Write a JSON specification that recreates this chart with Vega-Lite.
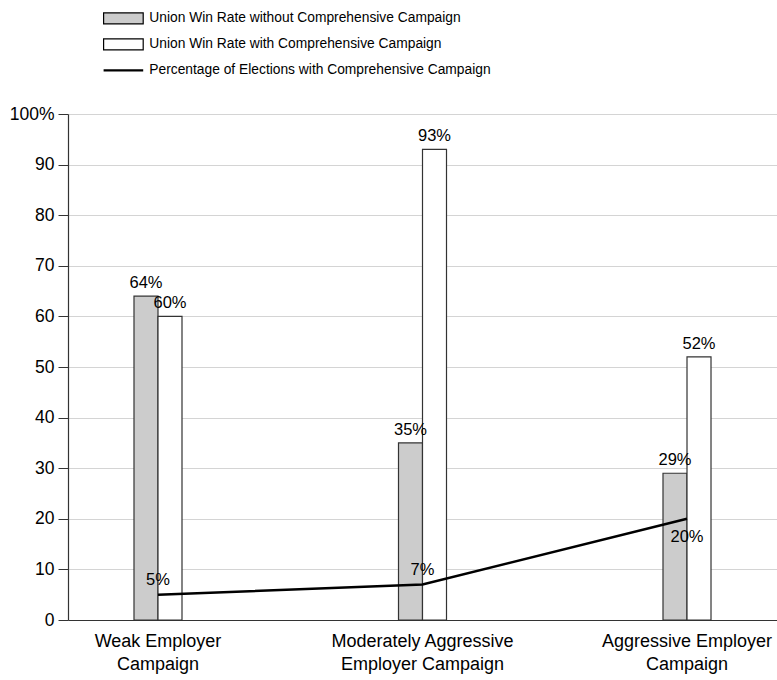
{
  "$schema": "https://vega.github.io/schema/vega-lite/v6.json",
  "autosize": {"type": "none"},
  "width": 709,
  "height": 506,
  "padding": {"left": 68, "top": 114, "right": 0, "bottom": 60},
  "background": "white",
  "config": {
    "font": "Liberation Sans",
    "view": {"stroke": null},
    "axis": {"labelFont": "Liberation Sans", "labelColor": "#000"}
  },
  "data": {
    "values": [
      {"category": "Weak Employer|Campaign", "series": "Union Win Rate without Comprehensive Campaign", "value": 0.64},
      {"category": "Weak Employer|Campaign", "series": "Union Win Rate with Comprehensive Campaign", "value": 0.60},
      {"category": "Weak Employer|Campaign", "series": "Percentage of Elections with Comprehensive Campaign", "value": 0.05},
      {"category": "Moderately Aggressive|Employer Campaign", "series": "Union Win Rate without Comprehensive Campaign", "value": 0.35},
      {"category": "Moderately Aggressive|Employer Campaign", "series": "Union Win Rate with Comprehensive Campaign", "value": 0.93},
      {"category": "Moderately Aggressive|Employer Campaign", "series": "Percentage of Elections with Comprehensive Campaign", "value": 0.07},
      {"category": "Aggressive Employer|Campaign", "series": "Union Win Rate without Comprehensive Campaign", "value": 0.29},
      {"category": "Aggressive Employer|Campaign", "series": "Union Win Rate with Comprehensive Campaign", "value": 0.52},
      {"category": "Aggressive Employer|Campaign", "series": "Percentage of Elections with Comprehensive Campaign", "value": 0.20}
    ]
  },
  "encoding": {
    "x": {
      "field": "category",
      "type": "nominal",
      "sort": null,
      "scale": {"paddingInner": 0.8185, "paddingOuter": 0.2495},
      "axis": {
        "title": null,
        "labelAngle": 0,
        "labelExpr": "split(datum.label, '|')",
        "labelFontSize": 18,
        "labelLineHeight": 23,
        "labelPadding": 12,
        "labelLimit": 400,
        "ticks": false,
        "domainColor": "#333",
        "domainWidth": 1.2,
        "grid": false
      }
    },
    "y": {
      "field": "value",
      "type": "quantitative",
      "scale": {"domain": [0, 1], "nice": false},
      "axis": {
        "title": null,
        "values": [0, 0.1, 0.2, 0.3, 0.4, 0.5, 0.6, 0.7, 0.8, 0.9, 1],
        "labelExpr": "datum.value >= 0.999 ? '100%' : format(datum.value * 100, 'd')",
        "labelFontSize": 17.5,
        "labelPadding": 4,
        "tickSize": 10,
        "tickColor": "#333",
        "domainColor": "#333",
        "domainWidth": 1.2,
        "grid": true,
        "gridColor": "#d4d4d4",
        "gridWidth": 1
      }
    }
  },
  "layer": [
    {
      "transform": [{"filter": "datum.series !== 'Percentage of Elections with Comprehensive Campaign'"}],
      "mark": {"type": "bar", "stroke": "#333", "strokeWidth": 1.2},
      "encoding": {
        "xOffset": {"field": "series", "type": "nominal", "sort": ["Union Win Rate without Comprehensive Campaign", "Union Win Rate with Comprehensive Campaign"]},
        "color": {
          "field": "series",
          "type": "nominal",
          "scale": {
            "domain": ["Union Win Rate without Comprehensive Campaign", "Union Win Rate with Comprehensive Campaign", "Percentage of Elections with Comprehensive Campaign"],
            "range": ["#cccccc", "#ffffff", "#000000"]
          },
          "legend": {
            "title": null,
            "orient": "none",
            "legendX": 48.5,
            "legendY": -102.5,
            "direction": "vertical",
            "padding": 0,
            "symbolSize": 121,
            "symbolType": "M-3.6,-1H3.6V1H-3.6Z",
            "symbolStrokeColor": "#000",
            "symbolStrokeWidth": 1.2,
            "labelFontSize": 13.8,
            "labelFont": "Liberation Sans",
            "labelColor": "#000",
            "labelOffset": 19,
            "rowPadding": 10,
            "labelLimit": 500,
            "encode": {
              "symbols": {
                "update": {
                  "shape": {"signal": "datum.value === 'Percentage of Elections with Comprehensive Campaign' ? 'M-3.6,0H3.6' : 'M-3.6,-1H3.6V1H-3.6Z'"},
                  "fill": {"signal": "datum.value === 'Union Win Rate without Comprehensive Campaign' ? '#cccccc' : datum.value === 'Union Win Rate with Comprehensive Campaign' ? '#ffffff' : 'transparent'"},
                  "stroke": {"value": "#000"},
                  "strokeWidth": {"signal": "datum.value === 'Percentage of Elections with Comprehensive Campaign' ? 2.4 : 1.2"},
                  "opacity": {"value": 1}
                }
              }
            }
          }
        }
      }
    },
    {
      "transform": [{"filter": "datum.series !== 'Percentage of Elections with Comprehensive Campaign'"}],
      "mark": {"type": "text", "baseline": "alphabetic", "dy": -8, "fontSize": 16.5, "color": "#000"},
      "encoding": {
        "xOffset": {"field": "series", "type": "nominal", "sort": ["Union Win Rate without Comprehensive Campaign", "Union Win Rate with Comprehensive Campaign"]},
        "text": {"field": "value", "type": "quantitative", "format": ".0%"}
      }
    },
    {
      "transform": [{"filter": "datum.series === 'Percentage of Elections with Comprehensive Campaign'"}],
      "mark": {"type": "line", "color": "#000", "strokeWidth": 2.5},
      "encoding": {}
    },
    {
      "transform": [{"filter": "datum.series === 'Percentage of Elections with Comprehensive Campaign' && datum.value < 0.1"}],
      "mark": {"type": "text", "baseline": "alphabetic", "dy": -10, "fontSize": 16.5, "color": "#000"},
      "encoding": {
        "text": {"field": "value", "type": "quantitative", "format": ".0%"}
      }
    },
    {
      "transform": [{"filter": "datum.series === 'Percentage of Elections with Comprehensive Campaign' && datum.value >= 0.1"}],
      "mark": {"type": "text", "baseline": "alphabetic", "dy": 23, "fontSize": 16.5, "color": "#000"},
      "encoding": {
        "text": {"field": "value", "type": "quantitative", "format": ".0%"}
      }
    }
  ]
}
